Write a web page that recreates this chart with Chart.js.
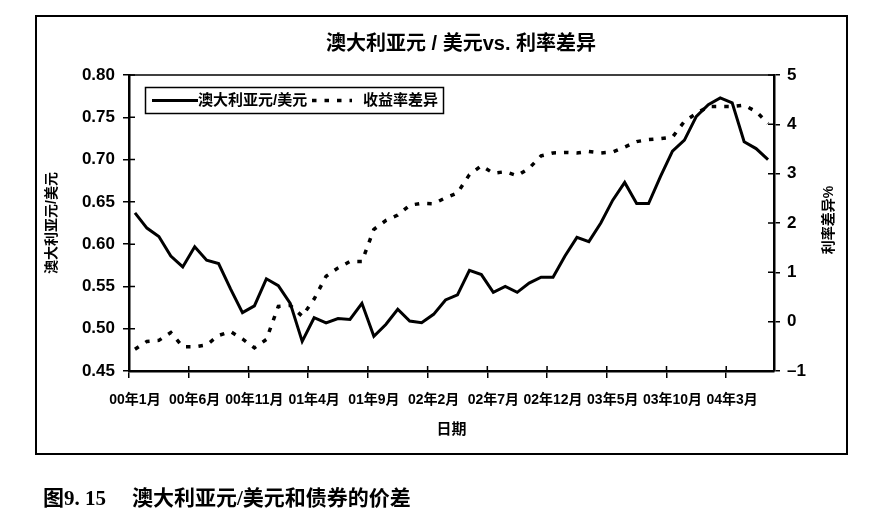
<!DOCTYPE html>
<html><head><meta charset="utf-8">
<script src="https://cdn.jsdelivr.net/npm/chart.js@4.4.1/dist/chart.umd.min.js"></script>
<style>html,body{margin:0;padding:0;background:#fff}#wrap{width:872px;height:526px;position:relative}</style>
</head><body><div id="wrap"><canvas id="c"></canvas></div>
<script>
const months = ['00年1月','00年2月','00年3月','00年4月','00年5月','00年6月','00年7月','00年8月','00年9月','00年10月','00年11月','00年12月',
'01年1月','01年2月','01年3月','01年4月','01年5月','01年6月','01年7月','01年8月','01年9月','01年10月','01年11月','01年12月',
'02年1月','02年2月','02年3月','02年4月','02年5月','02年6月','02年7月','02年8月','02年9月','02年10月','02年11月','02年12月',
'03年1月','03年2月','03年3月','03年4月','03年5月','03年6月','03年7月','03年8月','03年9月','03年10月','03年11月','03年12月',
'04年1月','04年2月','04年3月','04年4月','04年5月','04年6月'];
const tickLabels = ['00年1月','00年6月','00年11月','01年4月','01年9月','02年2月','02年7月','02年12月','03年5月','03年10月','04年3月'];
const audUsd = [0.637,0.619,0.609,0.586,0.573,0.597,0.581,0.577,0.547,0.519,
0.527,0.559,0.551,0.530,0.485,0.513,0.507,0.512,0.511,0.530,
0.491,0.505,0.523,0.509,0.507,0.517,0.534,0.540,0.569,0.564,
0.543,0.550,0.543,0.554,0.561,0.561,0.586,0.608,0.603,0.625,
0.652,0.673,0.648,0.648,0.680,0.710,0.723,0.751,0.765,0.773,
0.767,0.721,0.713,0.700];
const yieldSpread = [-0.56,-0.40,-0.38,-0.22,-0.51,-0.51,-0.47,-0.28,-0.20,-0.35,
-0.53,-0.36,0.31,0.33,0.11,0.46,0.92,1.09,1.22,1.22,
1.87,2.05,2.16,2.36,2.40,2.39,2.51,2.61,2.98,3.16,
3.01,3.04,2.96,3.11,3.36,3.42,3.43,3.42,3.45,3.42,
3.44,3.54,3.65,3.69,3.71,3.74,4.06,4.22,4.36,4.36,
4.36,4.39,4.26,4.02];
const seriesNames = ['澳大利亚元/美元','收益率差异'];
const chartTitle = '澳大利亚元 / 美元vs. 利率差异';
const leftTitle = '澳大利亚元/美元';
const rightTitle = '利率差异%';
const xTitle = '日期';
const captionNo = '图9. 15';
const captionText = '澳大利亚元/美元和债券的价差';

const CJK = '"Liberation Sans","Noto Sans CJK SC",sans-serif';
const DASH = [4.5, 8];

const decor = {
  id:'decor',
  beforeDraw(chart){
    const ctx = chart.ctx;
    ctx.save();
    ctx.fillStyle='#fff'; ctx.fillRect(0,0,chart.width,chart.height);
    ctx.strokeStyle='#000'; ctx.lineWidth=2;
    ctx.strokeRect(36,16,811,438);
    ctx.restore();
  },
  afterDraw(chart){
    const ctx = chart.ctx, a = chart.chartArea;
    ctx.save();
    ctx.fillStyle='#000'; ctx.strokeStyle='#000';
    // top border of plot area
    ctx.lineWidth=1.5;
    ctx.beginPath(); ctx.moveTo(a.left,a.top); ctx.lineTo(a.right,a.top); ctx.stroke();
    // inward tick stubs
    const x = chart.scales.x, y = chart.scales.y, y1 = chart.scales.y1;
    const half = (x.getPixelForValue(1)-x.getPixelForValue(0))/2;
    ctx.beginPath();
    months.forEach((m,i)=>{ if(tickLabels.includes(m)){ const px=x.getPixelForValue(i)-half; ctx.moveTo(px,a.bottom); ctx.lineTo(px,a.bottom-5);} });
    y.ticks.forEach(t=>{const py=y.getPixelForValue(t.value); ctx.moveTo(a.left,py); ctx.lineTo(a.left+6,py);});
    y1.ticks.forEach(t=>{const py=y1.getPixelForValue(t.value); ctx.moveTo(a.right,py); ctx.lineTo(a.right-6,py);});
    ctx.stroke();
    // title
    ctx.textAlign='center'; ctx.textBaseline='middle';
    ctx.font='bold 20px '+CJK;
    ctx.fillText(chartTitle, 461, 44);
    // right axis title
    ctx.save();
    ctx.translate(829, 220); ctx.rotate(-Math.PI/2);
    ctx.font='bold 14px '+CJK;
    ctx.fillText(rightTitle, 0, 0);
    ctx.restore();
    // legend
    ctx.lineWidth=1.5;
    ctx.strokeRect(145.5,87.5,298,26);
    const ly=100.5;
    const d0 = chart.data.datasets[0], d1 = chart.data.datasets[1];
    ctx.lineWidth=d0.borderWidth; ctx.setLineDash([]);
    ctx.beginPath(); ctx.moveTo(152,ly); ctx.lineTo(198,ly); ctx.stroke();
    ctx.lineWidth=d1.borderWidth; ctx.setLineDash(d1.borderDash);
    ctx.beginPath(); ctx.moveTo(312,ly); ctx.lineTo(352,ly); ctx.stroke();
    ctx.setLineDash([]);
    ctx.textAlign='left';
    ctx.font='bold 15px '+CJK;
    ctx.fillText(d0.label, 198, ly);
    ctx.fillText(d1.label, 363, ly);
    // caption
    ctx.font='bold 21px "Liberation Serif","Noto Sans CJK SC",serif';
    ctx.fillText(captionNo, 43, 500);
    ctx.fillText(captionText, 132, 500);
    ctx.restore();
  }
};

new Chart(document.getElementById('c'), {
  type:'line',
  data:{
    labels: months,
    datasets:[
      {label:seriesNames[0], data:audUsd, yAxisID:'y', borderColor:'#000', borderWidth:3, pointRadius:0, tension:0, fill:false},
      {label:seriesNames[1], data:yieldSpread, yAxisID:'y1', borderColor:'#000', borderWidth:3.5, borderDash:DASH, pointRadius:0, tension:0, fill:false}
    ]
  },
  options:{
    responsive:true, maintainAspectRatio:false, animation:false, devicePixelRatio:1,
    layout:{padding:{top:75,left:0,right:0,bottom:0}},
    plugins:{legend:{display:false}, title:{display:false}, tooltip:{enabled:false}},
    scales:{
      x:{
        type:'category', offset:true,
        grid:{offset:true, drawOnChartArea:false, tickLength:7, lineWidth:1.5, color:'#000',
          tickColor: c => (c.index!==undefined && c.index<months.length && tickLabels.includes(months[c.index])) ? '#000' : 'rgba(0,0,0,0)'},
        border:{color:'#000', width:2.5},
        ticks:{autoSkip:false, maxRotation:0, minRotation:0, padding:14, color:'#000',
          font:{family:CJK, weight:'bold', size:14},
          callback(v){ const l=this.getLabelForValue(v); return tickLabels.includes(l)?l:''; }},
        title:{display:true, text:xTitle, color:'#000', font:{family:CJK, weight:'bold', size:15}, padding:{top:0,bottom:87}},
        afterFit(s){ s.height=155; }
      },
      y:{
        position:'left', min:0.45, max:0.80,
        grid:{drawOnChartArea:false, tickLength:6, lineWidth:1.5, color:'#000'},
        border:{color:'#000', width:2.5},
        ticks:{stepSize:0.05, padding:8, color:'#000', font:{family:'"Liberation Sans"', weight:'bold', size:17}, callback:v=>v.toFixed(2)},
        title:{display:true, text:leftTitle, color:'#000', font:{family:CJK, weight:'bold', size:14}, padding:{top:44,bottom:0}},
        afterFit(s){ s.width=129; }
      },
      y1:{
        position:'right', min:-1, max:5,
        grid:{drawOnChartArea:false, tickLength:6, lineWidth:1.5, color:'#000'},
        border:{color:'#000', width:2.5},
        ticks:{stepSize:1, padding:7, color:'#000', font:{family:'"Liberation Sans"', weight:'bold', size:17}, callback:v=>String(v).replace('-','–')},
        afterFit(s){ s.width=98; }
      }
    }
  },
  plugins:[decor]
});
</script></body></html>
